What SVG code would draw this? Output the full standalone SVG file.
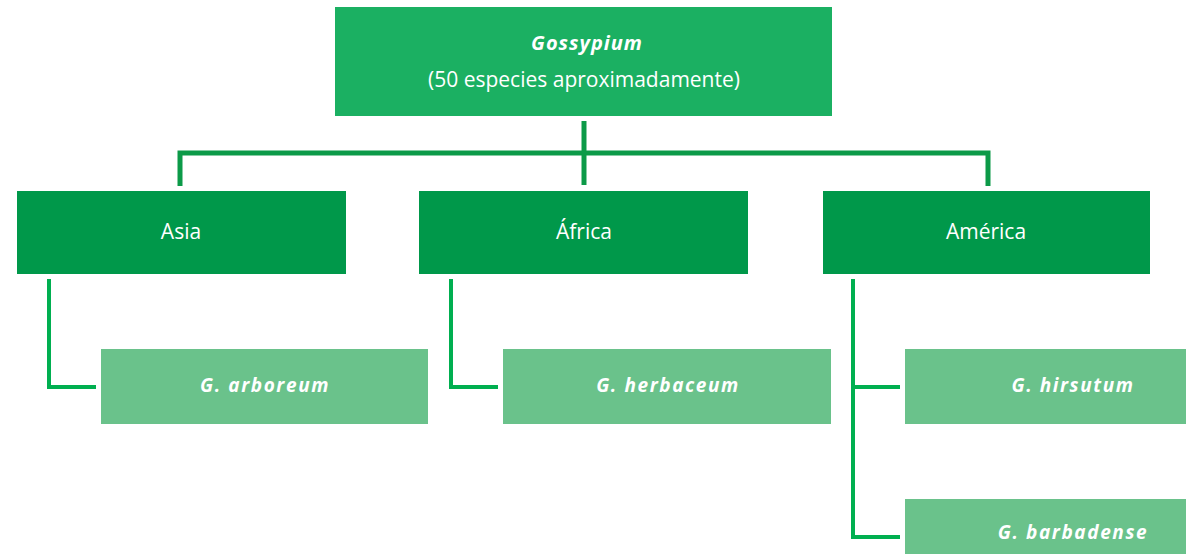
<svg xmlns="http://www.w3.org/2000/svg" width="1186" height="554" viewBox="0 0 1186 554">
<style>
.top{fill:#1bb062}
.l2{fill:#00984a}
.l3{fill:#6ac28b}
.t{font-family:"Open Sans","Liberation Sans",sans-serif;fill:#fff;text-anchor:middle}
.sp{font-style:italic;font-weight:bold;font-size:19px;letter-spacing:1.6px}
.c1{stroke:#0c9a48;stroke-width:5;fill:none}
.c2{stroke:#00af50;stroke-width:4;fill:none}
</style>
<rect width="1186" height="554" fill="#fff"/>
<g id="connectors">
<line class="c1" x1="584" y1="121" x2="584" y2="185"/>
<polyline class="c1" points="180,186 180,153 988,153 988,186"/>
<polyline class="c2" points="49,279 49,387 96,387"/>
<polyline class="c2" points="451,279 451,387 498,387"/>
<polyline class="c2" points="853,279 853,537 900,537"/>
<line class="c2" x1="853" y1="387" x2="900" y2="387"/>
</g>
<g id="gossypium">
<rect class="top" x="335" y="7" width="497" height="109"/>
<text class="t" x="587" y="50" font-size="20" font-style="italic" font-weight="bold" letter-spacing="1">Gossypium</text>
<text class="t" x="584" y="87" font-size="21">(50 especies aproximadamente)</text>
</g>
<g id="asia">
<rect class="l2" x="17" y="191" width="329" height="83"/>
<text class="t" x="181" y="239" font-size="21">Asia</text>
</g>
<g id="africa">
<rect class="l2" x="419" y="191" width="329" height="83"/>
<text class="t" x="584" y="239" font-size="21">África</text>
</g>
<g id="america">
<rect class="l2" x="823" y="191" width="327" height="83"/>
<text class="t" x="986" y="239" font-size="21">América</text>
</g>
<g id="arboreum">
<rect class="l3" x="101" y="349" width="327" height="75"/>
<text class="t sp" x="265" y="392">G. arboreum</text>
</g>
<g id="herbaceum">
<rect class="l3" x="503" y="349" width="328" height="75"/>
<text class="t sp" x="668" y="392">G. herbaceum</text>
</g>
<g id="hirsutum">
<rect class="l3" x="905" y="349" width="300" height="75"/>
<text class="t sp" x="1073" y="392">G. hirsutum</text>
</g>
<g id="barbadense">
<rect class="l3" x="905" y="499" width="300" height="60"/>
<text class="t sp" x="1073" y="539">G. barbadense</text>
</g>
</svg>
